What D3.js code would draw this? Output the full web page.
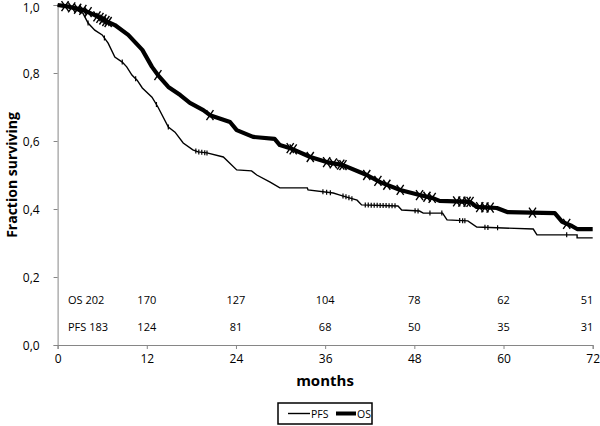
<!DOCTYPE html>
<html><head><meta charset="utf-8">
<script src="https://cdn.jsdelivr.net/npm/d3@7"></script>
<style>body{margin:0;background:#fff}svg{display:block;font-family:"Open Sans","Noto Sans",sans-serif}</style>
</head><body><svg id="c" width="600" height="426"></svg>
<script>
const xTicks = [0,12,24,36,48,60,72];
const yTicks = [0,0.2,0.4,0.6,0.8,1.0];
const yTickLabels = ["0,0","0,2","0,4","0,6","0,8","1,0"];
const osCurve = [[0,1.0],[1.5,0.995],[3.5,0.985],[5,0.97],[6.4,0.954],[7.7,0.941],[9.5,0.912],[11.4,0.868],[12.7,0.818],[13.5,0.794],[14.9,0.759],[16.5,0.735],[17.8,0.712],[19.6,0.691],[20.5,0.676],[23.2,0.656],[24.1,0.632],[26.3,0.612],[29.2,0.606],[29.9,0.588],[31.3,0.579],[34.0,0.553],[36.2,0.538],[38.4,0.529],[41.6,0.5],[43.4,0.479],[46.1,0.456],[48.7,0.441],[50.5,0.432],[51.4,0.424],[55.5,0.421],[56.4,0.406],[59.1,0.403],[60.5,0.391],[66.9,0.388],[67.9,0.362],[69.2,0.35],[69.9,0.341],[72,0.341]];
const pfsCurve = [[0,1.0],[1.5,0.995],[3.4,0.976],[4.1,0.947],[5.0,0.926],[6.0,0.912],[6.8,0.888],[7.7,0.847],[8.7,0.832],[9.3,0.818],[10.0,0.794],[10.7,0.779],[11.4,0.756],[12.7,0.729],[13.5,0.7],[14.9,0.641],[15.8,0.626],[16.9,0.594],[18.2,0.574],[18.9,0.568],[20.1,0.565],[22.3,0.553],[24.1,0.515],[26.1,0.512],[26.8,0.5],[28.6,0.479],[29.9,0.462],[33.6,0.462],[33.7,0.456],[37.1,0.447],[38.0,0.441],[38.9,0.435],[40.3,0.426],[40.9,0.412],[45.8,0.409],[46.3,0.397],[48.7,0.394],[49.2,0.388],[51.8,0.388],[52.4,0.368],[55.2,0.365],[56.4,0.347],[64.0,0.341],[64.5,0.324],[69.9,0.324],[69.9,0.315],[72,0.315]];
const osCensor = [1.0,1.9,2.7,3.4,4.1,5.3,5.7,6.1,6.5,6.8,13.5,20.5,31.3,31.7,34.0,36.2,37.1,38.1,38.4,41.6,43.1,44.3,46.1,48.7,49.7,50.4,53.7,54.4,55.1,55.5,56.8,57.5,58.2,63.9,68.5];
const pfsCensor = [4.1,6.3,8.7,10.5,13.3,14.9,18.6,19.0,19.4,19.8,20.1,35.7,36.2,36.7,38.4,38.8,39.2,39.6,41.4,41.8,42.2,42.6,43.0,43.4,43.8,44.2,44.6,45.0,45.4,48.1,48.5,50.1,51.7,54.1,54.5,54.8,57.5,57.9,59.2,68.5];
const riskTimes = [12,24,36,48,60,72];
const osRisk = [170,127,104,78,62,51];
const pfsRisk = [124,81,68,50,35,31];

const svg = d3.select("#c");
const x = d3.scaleLinear().domain([0,72]).range([57.6,592.7]);
const y = d3.scaleLinear().domain([0,1]).range([345,5]);
const axisColor = "#868686";

// axes
const gx = svg.append("g").attr("transform","translate(0,345)")
  .call(d3.axisBottom(x).tickValues(xTicks).tickSize(4).tickPadding(5));
const gy = svg.append("g").attr("transform","translate(57.6,0)")
  .call(d3.axisLeft(y).tickValues(yTicks).tickSize(4).tickPadding(14).tickFormat((d,i)=>yTickLabels[i]));
[gx,gy].forEach(g=>{
  g.select(".domain").attr("stroke",axisColor);
  g.selectAll(".tick line").attr("stroke",axisColor);
  g.selectAll(".tick text").attr("fill","#000").attr("font-size",12).attr("font-family","'Open Sans',sans-serif");
});
gy.selectAll(".tick text").attr("dy",d=>d===1?"0.55em":"0.35em");

// curves
const line = d3.line().x(d=>x(d[0])).y(d=>y(d[1]));
svg.append("path").datum(pfsCurve).attr("d",line).attr("fill","none").attr("stroke","#000").attr("stroke-width",1.4);
svg.append("path").datum(osCurve).attr("d",line).attr("fill","none").attr("stroke","#000").attr("stroke-width",4.2).attr("stroke-linejoin","round");

function valueAt(curve,t){
  for(let i=1;i<curve.length;i++){
    if(t<=curve[i][0]){const a=curve[i-1],b=curve[i];const f=b[0]===a[0]?1:(t-a[0])/(b[0]-a[0]);return a[1]+f*(b[1]-a[1]);}
  }
  return curve[curve.length-1][1];
}
// censor marks
svg.append("g").selectAll("path").data(osCensor).join("path")
  .attr("d",t=>{const cx=x(t),cy=y(valueAt(osCurve,t));return `M${cx-3.5},${cy-5}L${cx+3.5},${cy+5}M${cx+3.5},${cy-5}L${cx-3.5},${cy+5}`;})
  .attr("stroke","#000").attr("stroke-width",1.4).attr("fill","none");
svg.append("g").selectAll("path").data(pfsCensor).join("path")
  .attr("d",t=>{const cx=x(t),cy=y(valueAt(pfsCurve,t));return `M${cx},${cy-2.5}L${cx},${cy+2.5}`;})
  .attr("stroke","#000").attr("stroke-width",1.2).attr("fill","none");

// numbers at risk
const rk = svg.append("g").attr("font-size",11).attr("fill","#000");
rk.append("text").attr("x",68).attr("y",304).text("OS 202");
rk.append("text").attr("x",68).attr("y",331).text("PFS 183");
rk.selectAll(".o").data(riskTimes).join("text").attr("x",(d,i)=>i===5?587:x(d)).attr("y",304).attr("text-anchor","middle").text((d,i)=>osRisk[i]);
rk.selectAll(".p").data(riskTimes).join("text").attr("x",(d,i)=>i===5?587:x(d)).attr("y",331).attr("text-anchor","middle").text((d,i)=>pfsRisk[i]);

// axis titles
svg.append("text").attr("x",325).attr("y",386).attr("text-anchor","middle").attr("font-weight","bold").attr("font-size",15).text("months");
svg.append("text").attr("transform","translate(17,175) rotate(-90)").attr("text-anchor","middle").attr("font-weight","bold").attr("font-size",14).text("Fraction surviving");

// legend
const lg = svg.append("g");
lg.append("rect").attr("x",278).attr("y",403).attr("width",94).attr("height",21).attr("fill","none").attr("stroke","#000").attr("stroke-width",1.5);
lg.append("line").attr("x1",288).attr("x2",310).attr("y1",413.5).attr("y2",413.5).attr("stroke","#000").attr("stroke-width",1.4);
lg.append("text").attr("x",311).attr("y",417.5).attr("font-size",10.5).text("PFS");
lg.append("line").attr("x1",336).attr("x2",356).attr("y1",413.5).attr("y2",413.5).attr("stroke","#000").attr("stroke-width",4);
lg.append("text").attr("x",357).attr("y",417.5).attr("font-size",10.5).text("OS");
</script></body></html>
